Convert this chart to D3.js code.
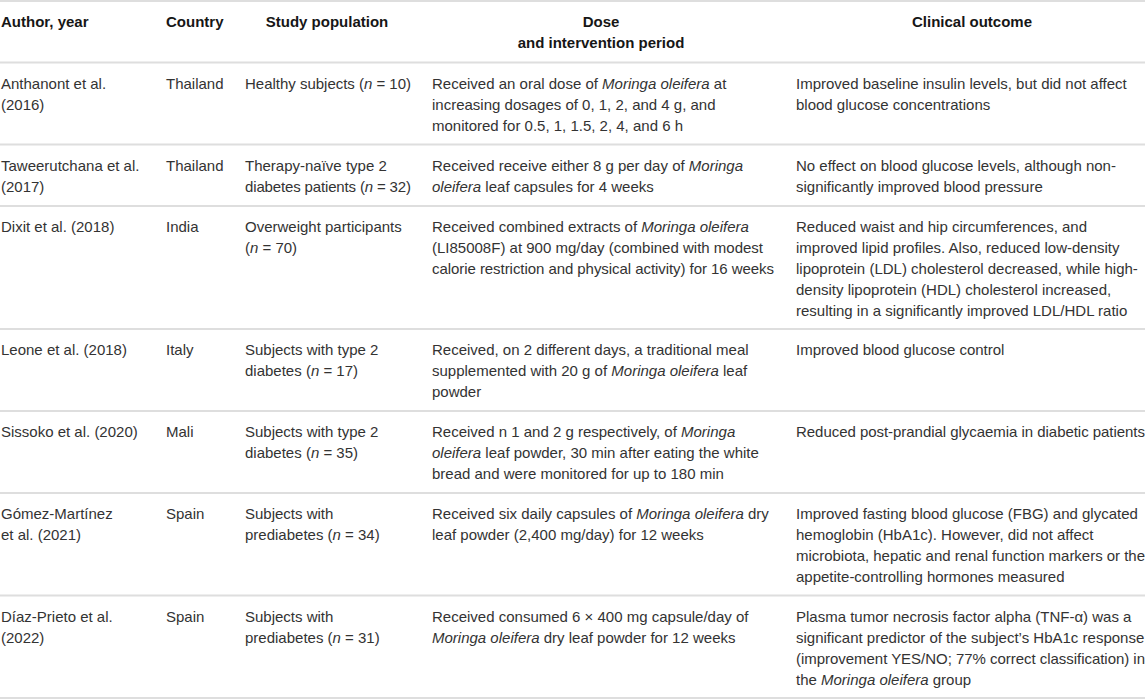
<!DOCTYPE html>
<html>
<head>
<meta charset="utf-8">
<script src="https://cdn.jsdelivr.net/npm/d3@7"></script>
<style>
  body { margin: 0; background: #fff; }
  svg { display: block; font-family: "Liberation Sans", Arial, Helvetica, sans-serif; }
</style>
</head>
<body>
<script>
// Tabla de estudios clínicos con Moringa oleifera
// Cada celda es una lista de líneas; lo que va entre *...* se dibuja en cursiva

let headers = [
    ["Author, year"],
    ["Country"],
    ["Study population"],
    ["Dose", "and intervention period"],
    ["Clinical outcome"]
];

let authors = [
    ["Anthanont et al.", "(2016)"],
    ["Taweerutchana et al.", "(2017)"],
    ["Dixit et al. (2018)"],
    ["Leone et al. (2018)"],
    ["Sissoko et al. (2020)"],
    ["Gómez-Martínez", "et al. (2021)"],
    ["Díaz-Prieto et al.", "(2022)"]
];

let countries = ["Thailand", "Thailand", "India", "Italy", "Mali", "Spain", "Spain"];

let populations = [
    ["Healthy subjects (*n* = 10)"],
    ["Therapy-naïve type 2", "diabetes patients (*n* = 32)"],
    ["Overweight participants", "(*n* = 70)"],
    ["Subjects with type 2", "diabetes (*n* = 17)"],
    ["Subjects with type 2", "diabetes (*n* = 35)"],
    ["Subjects with", "prediabetes (*n* = 34)"],
    ["Subjects with", "prediabetes (*n* = 31)"]
];

let doses = [
    ["Received an oral dose of *Moringa oleifera* at",
     "increasing dosages of 0, 1, 2, and 4 g, and",
     "monitored for 0.5, 1, 1.5, 2, 4, and 6 h"],
    ["Received receive either 8 g per day of *Moringa*",
     "*oleifera* leaf capsules for 4 weeks"],
    ["Received combined extracts of *Moringa oleifera*",
     "(LI85008F) at 900 mg/day (combined with modest",
     "calorie restriction and physical activity) for 16 weeks"],
    ["Received, on 2 different days, a traditional meal",
     "supplemented with 20 g of *Moringa oleifera* leaf",
     "powder"],
    ["Received n 1 and 2 g respectively, of *Moringa*",
     "*oleifera* leaf powder, 30 min after eating the white",
     "bread and were monitored for up to 180 min"],
    ["Received six daily capsules of *Moringa oleifera* dry",
     "leaf powder (2,400 mg/day) for 12 weeks"],
    ["Received consumed 6 × 400 mg capsule/day of",
     "*Moringa oleifera* dry leaf powder for 12 weeks"]
];

let outcomes = [
    ["Improved baseline insulin levels, but did not affect",
     "blood glucose concentrations"],
    ["No effect on blood glucose levels, although non-",
     "significantly improved blood pressure"],
    ["Reduced waist and hip circumferences, and",
     "improved lipid profiles. Also, reduced low-density",
     "lipoprotein (LDL) cholesterol decreased, while high-",
     "density lipoprotein (HDL) cholesterol increased,",
     "resulting in a significantly improved LDL/HDL ratio"],
    ["Improved blood glucose control"],
    ["Reduced post-prandial glycaemia in diabetic patients"],
    ["Improved fasting blood glucose (FBG) and glycated",
     "hemoglobin (HbA1c). However, did not affect",
     "microbiota, hepatic and renal function markers or the",
     "appetite-controlling hormones measured"],
    ["Plasma tumor necrosis factor alpha (TNF-α) was a",
     "significant predictor of the subject’s HbA1c response",
     "(improvement YES/NO; 77% correct classification) in",
     "the *Moringa oleifera* group"]
];

let WIDTH = 1145;
let HEIGHT = 699;

// columnas: inicio del texto, ancho disponible y dónde va el título
let cols = ["author", "country", "population", "dose", "outcome"];
let colX = d3.scaleOrdinal().domain(cols).range([1, 166, 245, 432, 796]);
let colW = d3.scaleOrdinal().domain(cols).range([152, 75, 166, 342, 349]);
let headX = d3.scaleOrdinal().domain(cols).range([1, 166, 327, 601, 972]);
let headAnchor = d3.scaleOrdinal().domain(cols).range(["start", "start", "middle", "middle", "middle"]);

// armamos las filas (la primera es el encabezado)
let rows = authors.map((a, i) => [a, [countries[i]], populations[i], doses[i], outcomes[i]]);
let allRows = [headers].concat(rows);

// alto de cada fila en "unidades de línea": n líneas + 1 de relleno
let units = allRows.map(r => d3.max(r, c => c.length) + 1);
let bounds = [0];
units.forEach(u => bounds.push(bounds[bounds.length - 1] + u));

let y = d3.scaleLinear()
          .domain([0, d3.sum(units)])
          .range([1, 698]);

let LINE = 21;      // distancia entre líneas de texto
let FIRST = 26;     // del borde de la fila a la primera línea base

let svg = d3.select("body").append("svg")
            .attr("width", WIDTH)
            .attr("height", HEIGHT);

// líneas horizontales grises
svg.append("g")
   .selectAll("line")
   .data(bounds)
   .join("line")
      .attr("x1", 0)
      .attr("x2", WIDTH)
      .attr("y1", d => y(d))
      .attr("y2", d => y(d))
      .attr("stroke", "#dedede")
      .attr("stroke-width", 2);

// convierte "texto *cursiva* texto" en tspans
function addRich(textSel, str) {
    str.split("*").forEach((part, k) => {
        if (part === "") return;
        textSel.append("tspan")
               .attr("font-style", k % 2 === 1 ? "italic" : null)
               .text(part);
    });
}

let cells = [];
allRows.forEach((row, r) => {
    row.forEach((lines, c) => {
        lines.forEach((line, k) => {
            cells.push({row: r, col: cols[c], line: k, str: line, head: r === 0});
        });
    });
});

let texts = svg.append("g")
               .selectAll("text")
               .data(cells)
               .join("text")
                  .attr("x", d => d.head ? headX(d.col) : colX(d.col))
                  .attr("y", d => y(bounds[d.row]) + FIRST + d.line * LINE)
                  .attr("text-anchor", d => d.head ? headAnchor(d.col) : "start")
                  .attr("font-size", 15)
                  .attr("font-weight", d => d.head ? "bold" : "normal")
                  .attr("fill", d => d.head ? "#161616" : "#333");

texts.each(function(d) {
    addRich(d3.select(this), d.str);
    // si la línea no cabe en la columna, se aprieta un poco el espaciado
    if (!d.head) {
        let w = this.getComputedTextLength();
        if (w > colW(d.col)) {
            d3.select(this)
              .attr("textLength", colW(d.col))
              .attr("lengthAdjust", "spacing");
        }
    }
});
</script>
</body>
</html>
